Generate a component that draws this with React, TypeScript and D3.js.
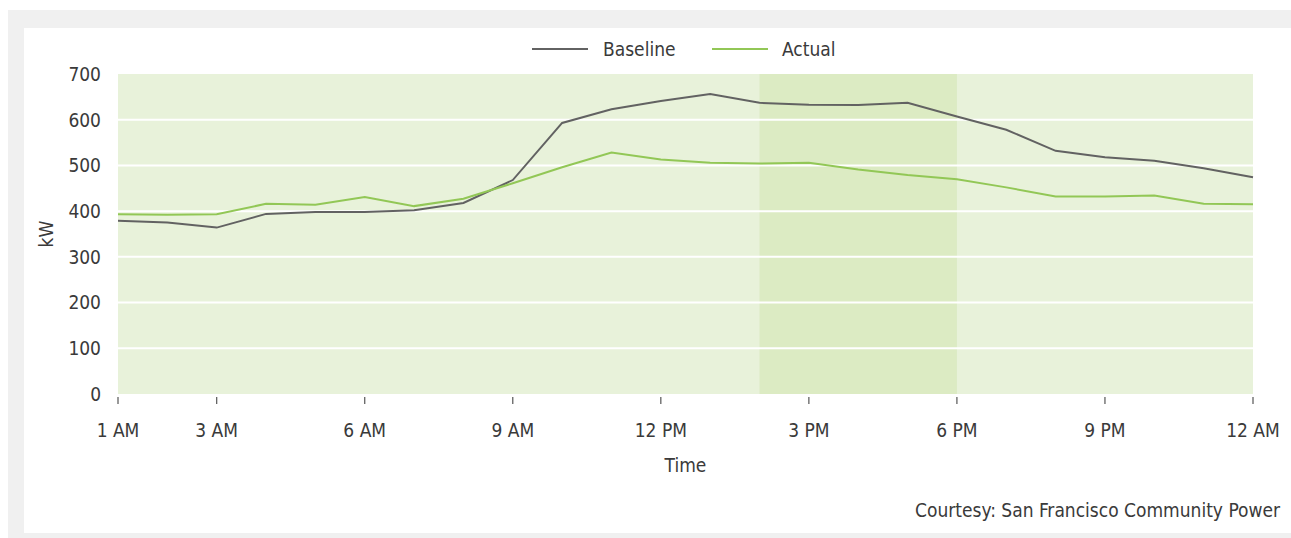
import * as d3 from 'd3'

const hours = d3.range(1, 25)
const baseline = [379, 375, 364, 394, 398, 398, 402, 418, 468, 593, 623, 641, 656, 637, 633, 632, 637, 607, 578, 532, 518, 510, 494, 474]
const actual = [393, 392, 393, 416, 414, 431, 411, 427, 461, 496, 528, 513, 506, 504, 506, 491, 479, 470, 452, 432, 432, 434, 416, 415]
const xTicks = [1, 3, 6, 9, 12, 15, 18, 21, 24]
const xTickLabels = ['1 AM', '3 AM', '6 AM', '9 AM', '12 PM', '3 PM', '6 PM', '9 PM', '12 AM']
const yTicks = [0, 100, 200, 300, 400, 500, 600, 700]
const peakWindow = [14, 18]

const W = 1291
const H = 538
const font = "'DejaVu Sans Condensed', 'Liberation Sans Narrow', sans-serif"
const textColor = '#3a3a3a'
const fs = 19

export default function App() {
  const margin = { top: 74, right: 38, bottom: 144, left: 118 }
  const x = d3.scaleLinear().domain([1, 24]).range([margin.left, W - margin.right])
  const y = d3.scaleLinear().domain([0, 700]).range([H - margin.bottom, margin.top])

  const line = d3
    .line<number>()
    .x((_, i) => x(hours[i]))
    .y((d) => y(d))

  const plotBottom = y(0)

  return (
    <svg
      width={W}
      height={H}
      style={{ position: 'absolute', left: 0, top: 0, fontFamily: font }}
    >
      <rect x={8} y={10} width={W - 8} height={H - 10} fill="#f0f0f0" />
      <rect x={24} y={28} width={W - 24} height={505} fill="#ffffff" />

      {/* plot background + peak window */}
      <rect
        x={x(1)}
        y={y(700)}
        width={x(24) - x(1)}
        height={plotBottom - y(700)}
        fill="#e8f2da"
      />
      <rect
        x={x(peakWindow[0])}
        y={y(700)}
        width={x(peakWindow[1]) - x(peakWindow[0])}
        height={plotBottom - y(700)}
        fill="#dcebc3"
      />

      {yTicks
        .filter((t) => t > 0 && t < 700)
        .map((t) => (
          <line key={t} x1={x(1)} x2={x(24)} y1={y(t)} y2={y(t)} stroke="#ffffff" strokeWidth={2} />
        ))}

      {yTicks.map((t) => (
        <text key={t} x={101} y={y(t)} dy="0.36em" textAnchor="end" fontSize={fs} fill={textColor}>
          {t}
        </text>
      ))}

      {xTicks.map((t, i) => (
        <g key={t}>
          <line x1={x(t)} x2={x(t)} y1={plotBottom + 3} y2={plotBottom + 10} stroke="#555" strokeWidth={1.2} />
          <text x={x(t)} y={plotBottom + 43} textAnchor="middle" fontSize={fs} fill={textColor}>
            {xTickLabels[i]}
          </text>
        </g>
      ))}

      <path d={line(baseline) ?? ''} fill="none" stroke="#626262" strokeWidth={2} />
      <path d={line(actual) ?? ''} fill="none" stroke="#92c756" strokeWidth={2} />

      {/* legend */}
      <line x1={532} x2={588} y1={49} y2={49} stroke="#626262" strokeWidth={2} />
      <text x={603} y={49} dy="0.36em" fontSize={fs} fill={textColor}>Baseline</text>
      <line x1={712} x2={768} y1={49} y2={49} stroke="#92c756" strokeWidth={2} />
      <text x={782} y={49} dy="0.36em" fontSize={fs} fill={textColor}>Actual</text>

      <text
        transform={`translate(53,${(y(700) + plotBottom) / 2}) rotate(-90)`}
        textAnchor="middle"
        fontSize={fs}
        fill={textColor}
      >
        kW
      </text>
      <text x={(x(1) + x(24)) / 2} y={472} textAnchor="middle" fontSize={fs} fill={textColor}>
        Time
      </text>
      <text x={1280} y={517} textAnchor="end" fontSize={fs} fill={textColor}>
        Courtesy: San Francisco Community Power
      </text>
    </svg>
  )
}
